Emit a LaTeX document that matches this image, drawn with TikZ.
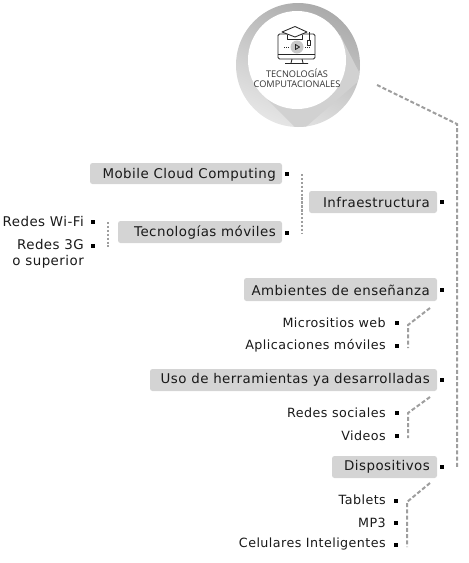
\documentclass[tikz,border=0pt]{standalone}
\usepackage{fontspec}
\setmainfont[LetterSpace=3.5]{DejaVu Sans}
\newfontfamily\titlefont{Open Sans}
\usetikzlibrary{calc}
\definecolor{boxgray}{gray}{0.83}
\definecolor{dashgray}{gray}{0.62}
\tikzset{
  topic/.style={fill=boxgray, rounded corners=2.5pt, inner sep=0pt},
  tlabel/.style={font=\fontsize{13.4}{16}\selectfont, anchor=east, inner sep=0pt, text=black!90, align=right},
  sublabel/.style={tlabel, font=\fontsize{12.7}{15}\selectfont},
  bigdot/.style={fill=black, inner sep=0pt, minimum size=4.5pt},
  smalldot/.style={fill=black, inner sep=0pt, minimum size=3.4pt},
  dashline/.style={draw=dashgray, line width=2pt, dash pattern=on 4pt off 2.2pt},
  dotline/.style={draw=dashgray, line width=2pt, dash pattern=on 2.4pt off 1.5pt},
  iconline/.style={draw=black!85, line width=0.85pt, line join=round}
}
\begin{document}
\begin{tikzpicture}[x=1pt,y=-1pt]
  \useasboundingbox (0,0) rectangle (469,563);

  % Ring, its soft shadow and the white disc.
  \shade[left color=black!33, right color=black!10, shading angle=-25] (298,65) circle (62);
  \begin{scope}
    \clip (298,65) circle (62);
    \fill[black!18] (340,35) -- (362,78) -- (300,132) -- (268,100) -- cycle;
  \end{scope}
  \fill[white] (297,60) circle (49);

  % Monitor, cap and play button.
  \draw[iconline, rounded corners=1.5pt] (278,34) rectangle (315,59);
  \draw[iconline] (278,54) -- (315,54);
  \draw[iconline] (292,59) -- (291,63) (302,59) -- (303,63) (285,63.5) -- (308,63.5);
  \fill[black!22] (297,47) circle (6.5);
  \draw[iconline] (295.5,44.5) -- (299.5,47) -- (295.5,49.5) -- cycle;
  \draw[iconline, dash pattern=on 1pt off 1pt] (284,47) -- (289,47) (305,47) -- (310,47);
  \draw[iconline, fill=white] (282,32) -- (295,26.5) -- (307,32) -- (295,37) -- cycle;
  \draw[iconline] (287,35) -- (287,39) -- (302,39) -- (302,35);
  \draw[iconline] (309,32) -- (309,40);
  \draw[iconline, fill=white] (307.5,40) rectangle (310.5,45.5);
  \node[font=\titlefont\fontsize{9.2}{10}\selectfont, align=center, inner sep=0pt, text=black!80] (title) at (297,78) {TECNOLOGÍAS\\COMPUTACIONALES};

  % Grey topic boxes.
  \fill[topic] (90,163) rectangle (282,184);
  \fill[topic] (118,221) rectangle (282,243);
  \fill[topic] (309,191) rectangle (437,213);
  \fill[topic] (244,278) rectangle (437,301);
  \fill[topic] (150,369) rectangle (437,391);
  \fill[topic] (332,456) rectangle (437,478);

  % Labels.
  \node[tlabel] (mobile) at (276,174.5) {Mobile Cloud Computing};
  \node[tlabel] (moviles) at (276,233) {Tecnologías móviles};
  \node[tlabel] (infra) at (430,202.5) {Infraestructura};
  \node[tlabel] (wifi) at (84,222) {Redes Wi-Fi};
  \node[tlabel, anchor=north east] (redes3g) at (84,239) {Redes 3G\\o superior};
  \node[tlabel] (ambientes) at (430,290) {Ambientes de enseñanza};
  \node[sublabel] (micro) at (386,323) {Micrositios web};
  \node[sublabel] (aplic) at (386,346) {Aplicaciones móviles};
  \node[tlabel] (uso) at (430,380) {Uso de herramientas ya desarrolladas};
  \node[sublabel] (sociales) at (386,413) {Redes sociales};
  \node[sublabel] (videos) at (386,436) {Videos};
  \node[tlabel] (dispo) at (430,467) {Dispositivos};
  \node[sublabel] (tablets) at (386,500) {Tablets};
  \node[sublabel] (mp3) at (386,523) {MP3};
  \node[sublabel] (celulares) at (386,544) {Celulares Inteligentes};

  % Square marks.
  \foreach \name/\x/\y in {mobile/287/174,moviles/287/233,infra/442/202,ambientes/442/290,uso/442/380,dispo/442/467} {
    \node[bigdot] (m\name) at (\x,\y) {};
  }
  \foreach \name/\x/\y in {wifi/93/222,redes3g/93/246,micro/397/323,aplic/397/346,sociales/397/413,videos/397/436,tablets/396/501,mp3/396/523,celulares/396/545} {
    \node[smalldot] (m\name) at (\x,\y) {};
  }

  % Dashed connectors.
  \coordinate (a0) at (377,85);
  \coordinate (a1) at (457,124);
  \coordinate (a2) at (457,468);
  \draw[dashline] (a0) -- (a1) -- (a2);
  \coordinate (b0) at (302,174);
  \coordinate (b1) at (302,234);
  \draw[dotline] (b0) -- (b1);
  \coordinate (c0) at (108,222);
  \coordinate (c1) at (108,247);
  \draw[dotline] (c0) -- (c1);
  \coordinate (d0) at (430,308);
  \coordinate (d1) at (408,325);
  \coordinate (d2) at (408,348);
  \draw[dashline] (d0) -- (d1) -- (d2);
  \coordinate (e0) at (430,397);
  \coordinate (e1) at (408,413);
  \coordinate (e2) at (408,438);
  \draw[dashline] (e0) -- (e1) -- (e2);
  \coordinate (f0) at (430,483);
  \coordinate (f1) at (407,502);
  \coordinate (f2) at (407,547);
  \draw[dashline] (f0) -- (f1) -- (f2);
\end{tikzpicture}
\end{document}
